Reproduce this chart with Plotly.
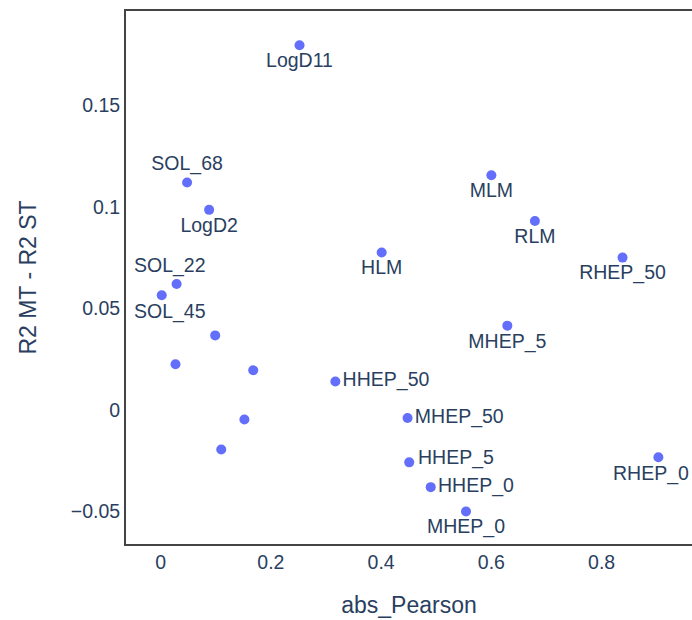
import plotly.graph_objects as go

# Per-endpoint scores: |Pearson r| versus the gain of multi-task over single-task R2
abs_pearson = [0.252, 0.048, 0.088, 0.029, 0.002, 0.099, 0.401, 0.600, 0.679, 0.838,
               0.629, 0.027, 0.168, 0.317, 0.152, 0.110, 0.448, 0.451, 0.490, 0.554, 0.903]
r2_diff = [0.1795, 0.1120, 0.0985, 0.0620, 0.0565, 0.0367, 0.0775, 0.1155, 0.0930, 0.0750,
           0.0415, 0.0225, 0.0195, 0.0140, -0.0047, -0.0195, -0.0040, -0.0258, -0.0380, -0.0500, -0.0233]
labels = ["LogD11", "SOL_68", "LogD2", "SOL_22", "SOL_45", "", "HLM", "MLM", "RLM", "RHEP_50",
          "MHEP_5", "", "", "HHEP_50", "", "", "MHEP_50", "HHEP_5", "HHEP_0", "MHEP_0", "RHEP_0"]
label_pos = ["bottom center", "top center", "bottom center", "top center", "bottom center",
             "bottom center", "bottom center", "bottom center", "bottom center", "bottom center",
             "bottom center", "bottom center", "bottom center", "middle right", "bottom center",
             "bottom center", "middle right", "middle right", "middle right", "bottom center",
             "bottom center"]
# Labels nudged sideways (pixels) so they don't crowd neighbours or the frame
label_nudge = {"SOL_22": -7, "SOL_45": 8, "RHEP_0": -7, "HHEP_5": 0}

font_color = "#2a3f5f"
font_family = "Arial, 'Liberation Sans', sans-serif"
label_size = 19.5

point_text = [("" if t in label_nudge else t) for t in labels]

fig = go.Figure(
    go.Scatter(
        x=abs_pearson,
        y=r2_diff,
        mode="markers+text",
        text=point_text,
        textposition=label_pos,
        textfont=dict(family=font_family, size=label_size, color=font_color),
        marker=dict(color="#636efa", size=10),
        cliponaxis=True,
        showlegend=False,
    )
)

# Nudged labels are placed as annotations anchored to their points
for xv, yv, t, pos in zip(abs_pearson, r2_diff, labels, label_pos):
    if t not in label_nudge:
        continue
    vert, horiz = pos.split(" ")
    if vert == "top":
        yanchor, yshift = "bottom", 5
    elif vert == "bottom":
        yanchor, yshift = "top", -3
    else:
        yanchor, yshift = "middle", 5
    if horiz == "right":
        xanchor, xshift = "left", 7 + label_nudge[t]
    else:
        xanchor, xshift = "center", label_nudge[t]
    fig.add_annotation(
        x=xv, y=yv, text=t, showarrow=False,
        xanchor=xanchor, yanchor=yanchor, xshift=xshift, yshift=yshift,
        font=dict(family=font_family, size=label_size, color=font_color),
    )

fig.update_layout(
    width=692,
    height=620,
    template="plotly_white",
    plot_bgcolor="white",
    paper_bgcolor="white",
    margin=dict(l=126, r=0, t=11, b=76),
    font=dict(family=font_family, size=19.5, color=font_color),
)

fig.update_xaxes(
    title=dict(text="abs_Pearson", font=dict(size=23), standoff=24),
    range=[-0.0628, 0.964],
    tickvals=[0, 0.2, 0.4, 0.6, 0.8],
    ticktext=["0", "0.2", "0.4", "0.6", "0.8"],
    tickfont=dict(size=19.5),
    showgrid=False,
    zeroline=False,
    showline=True,
    linecolor="#444444",
    linewidth=2,
    mirror=True,
    ticks="",
    automargin=False,
)

fig.update_yaxes(
    title=dict(text="R2 MT - R2 ST", font=dict(size=23), standoff=28),
    range=[-0.066, 0.1964],
    tickvals=[-0.05, 0, 0.05, 0.1, 0.15],
    ticktext=["\u22120.05", "0", "0.05", "0.1", "0.15"],
    tickfont=dict(size=19.5),
    showgrid=False,
    zeroline=False,
    showline=True,
    linecolor="#444444",
    linewidth=2,
    mirror=False,
    ticks="",
    automargin=False,
)

fig.write_html("out.html")
